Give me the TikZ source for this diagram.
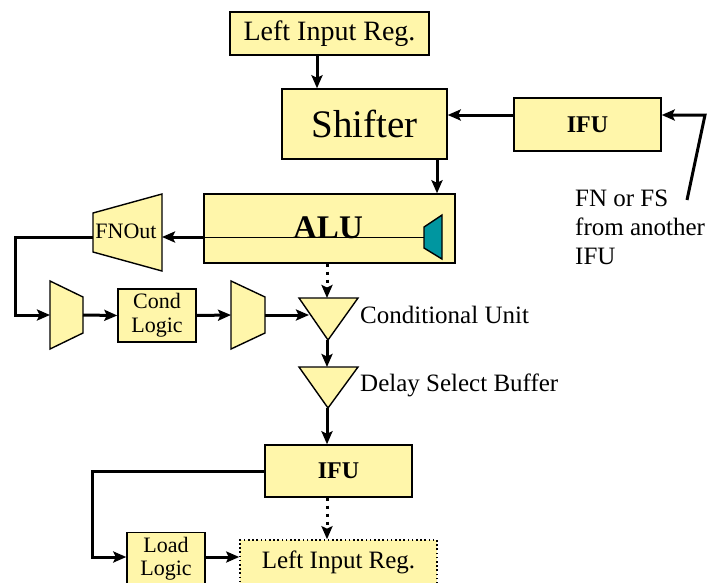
\documentclass[tikz,border=0pt]{standalone}
\usepackage{fontspec}
\setmainfont{Liberation Serif}
\usetikzlibrary{arrows.meta,calc}
\definecolor{boxfill}{RGB}{255,246,170}
\definecolor{tealfill}{RGB}{0,150,160}
\begin{document}
\begin{tikzpicture}[x=1pt,y=-1pt,
  blk/.style={draw=black,line width=1.4pt,fill=boxfill,inner sep=0pt,align=center},
  shapeline/.style={draw=black,line width=1.4pt,fill=boxfill},
  wire/.style={line width=3pt},
  arr/.style={wire,-{Stealth[length=13pt,width=11pt,inset=2.5pt]}},
  dotarr/.style={arr,dash pattern=on 3pt off 5pt},
  fs/.style={font=\fontsize{#1}{#1}\selectfont},
  lbl/.style={inner sep=0pt,anchor=west}]
\useasboundingbox (0,0) rectangle (710,582);

% register, shifter and fetch unit
\node[blk,fs=28,minimum width=199pt,minimum height=43pt] (lirtop) at (329.5,33.5) {Left Input Reg.};
\node[blk,fs=39,minimum width=165pt,minimum height=70pt] (shifter) at (364.5,124) {Shifter};
\node[blk,minimum width=147pt,minimum height=53pt,font=\fontsize{24}{24}\selectfont\bfseries] (ifua) at (587.5,124.5) {IFU};
\node[blk,minimum width=251pt,minimum height=69pt] (alu) at (329.5,228.5) {};
\node[inner sep=0pt,anchor=base,font=\fontsize{33}{33}\selectfont\bfseries] (alutxt) at (328,238) {ALU};

% teal output stage inside the ALU
\coordinate (tl) at (424,237);
\fill[tealfill,draw=black,line width=1.4pt] (424,227) -- (442,215) -- (442,259) -- (424,248) -- cycle;

% FNOut selector
\coordinate (fnR) at (162,237);
\coordinate (fnL) at (93,237);
\path[shapeline] (93,213) -- (162,194) -- (162,271) -- (93,252) -- cycle;
\node[inner sep=0pt,fs=22] (fnout) at (126,231) {FNOut};

% multiplexers and condition logic
\coordinate (m1L) at (50,315);
\coordinate (m1R) at (83,315);
\path[shapeline] (50,281) -- (83,297) -- (83,333) -- (50,349) -- cycle;
\node[blk,fs=22,minimum width=78pt,minimum height=53pt] (cond) at (157,315.5) {Cond\\[2pt]Logic};
\coordinate (m2L) at (231,315);
\coordinate (m2R) at (265,315);
\path[shapeline] (231,281) -- (265,297) -- (265,333) -- (231,349) -- cycle;

% conditional unit and delay buffer
\path[shapeline] (299,298) -- (358,298) -- (328,340) -- cycle;
\coordinate (cuT) at (327,298);
\coordinate (cuB) at (327,340);
\coordinate (cuL) at (309,315);
\node[lbl,fs=25] (cutxt) at (360,315) {Conditional Unit};
\path[shapeline] (299,367) -- (358,367) -- (328,408) -- cycle;
\coordinate (dsT) at (327,367);
\coordinate (dsB) at (327,408);
\node[lbl,fs=25] (dstxt) at (360,385) {Delay Select Buffer};

% lower fetch unit, load logic, next register
\node[blk,minimum width=147pt,minimum height=52pt,font=\fontsize{24}{24}\selectfont\bfseries] (ifub) at (338.5,471) {IFU};
\node[blk,fs=22,minimum width=78pt,minimum height=52pt,anchor=north] (load) at (166,532) {Load\\[1pt]Logic};
\node[draw=black,line width=1.6pt,dash pattern=on 1.6pt off 2.6pt,fill=boxfill,inner sep=0pt,fs=25,minimum width=197pt,minimum height=44pt] (lirbot) at (338.5,562) {Left Input Reg.};

% external input label
\coordinate (fnin) at (705,115);
\coordinate (fntail) at (687,200);
\node[inner sep=0pt,anchor=west,align=left,font=\fontsize{25}{29}\selectfont] (fntext) at (575,227) {FN or FS\\from another\\IFU};

% connectors
\draw[arr] (lirtop.south -| 317,0) -- (shifter.north -| 317,0);
\draw[arr] (shifter.south -| 437,0) -- (alu.north -| 437,0);
\draw[arr] (ifua.west |- fnin) -- (shifter.east |- fnin);
\draw[arr] (fntail) -- (fnin) -- (ifua.east |- fnin);
\draw[line width=1pt] (tl) -- (alu.west |- tl);
\draw[arr] (alu.west |- tl) -- (fnR);
\draw[arr] (fnL) -- (15,237) -- (15,315) -- (m1L);
\draw[arr] (m1R) -- (cond.west);
\draw[arr] (cond.east) -- (m2L);
\draw[arr] (m2R) -- (cuL);
\draw[dotarr] (alu.south -| cuT) -- (cuT);
\draw[arr] (cuB) -- (dsT);
\draw[arr] (dsB) -- (ifub.north -| dsB);
\draw[dotarr] (ifub.south -| dsB) -- (lirbot.north -| dsB);
\draw[arr] (ifub.west) -- (92,471) -- (92,557) -- (load.west |- 0,557);
\draw[arr] (load.east |- 0,557) -- (lirbot.west |- 0,557);
\end{tikzpicture}
\end{document}
